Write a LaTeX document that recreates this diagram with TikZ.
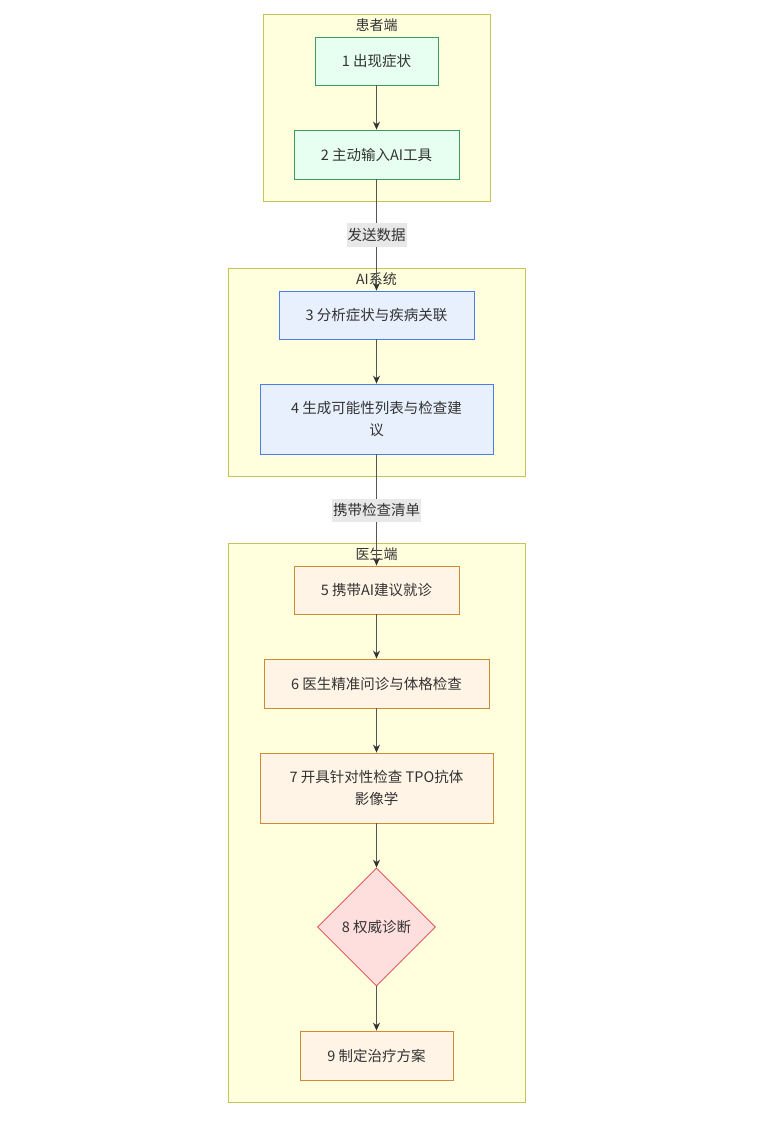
\documentclass[tikz,border=0pt]{standalone}
\usepackage{fontspec}
\setmainfont{Noto Sans CJK SC}
\newfontfamily\cjk{Noto Sans CJK SC}
\usetikzlibrary{shapes.geometric,arrows.meta}
\definecolor{clfill}{HTML}{FFFFDE}
\definecolor{clline}{HTML}{C4C45A}
\definecolor{gfill}{HTML}{E6FFF0}
\definecolor{gline}{HTML}{3E9A60}
\definecolor{bfill}{HTML}{E8F0FE}
\definecolor{bline}{HTML}{4A7EE8}
\definecolor{ofill}{HTML}{FFF4E6}
\definecolor{oline}{HTML}{D08A30}
\definecolor{rfill}{HTML}{FFDEDE}
\definecolor{rline}{HTML}{E0404A}
\definecolor{txt}{HTML}{333333}
\definecolor{edge}{HTML}{555555}
\definecolor{tipc}{HTML}{333333}
\definecolor{lblbg}{HTML}{E8E8E8}
\tikzset{
  cluster/.style={draw=clline, fill=clfill, line width=0.8pt},
  ctitle/.style={text=txt, font=\cjk\fontsize{14}{16}\selectfont, inner sep=0pt},
  box/.style={rectangle, line width=0.8pt, inner sep=0pt, align=center, text=txt, font=\cjk\fontsize{14.5}{22}\selectfont},
  gbox/.style={box, draw=gline, fill=gfill},
  bbox/.style={box, draw=bline, fill=bfill},
  obox/.style={box, draw=oline, fill=ofill},
  rdia/.style={diamond, aspect=1, line width=0.8pt, draw=rline, fill=rfill, inner sep=0pt, minimum width=118pt, minimum height=118pt, text=txt, font=\cjk\fontsize{14.5}{16}\selectfont},
  conn/.style={draw=edge, line width=1pt, -{Stealth[length=8pt,width=7pt,color=tipc]}},
  elabel/.style={fill=lblbg, text=txt, font=\cjk\fontsize{14.5}{16}\selectfont, inner xsep=1pt, minimum height=23pt}
}
\begin{document}
\begin{tikzpicture}[x=1pt,y=-1pt]
\useasboundingbox[fill=white] (0,0) rectangle (760,1123);
% clusters
\draw[cluster] (263,14) rectangle (490,201);
\node[ctitle] (t1) at (376.5,25) {患者端};
\draw[cluster] (228,268) rectangle (525,476);
\node[ctitle] (t2) at (376.5,279) {AI系统};
\draw[cluster] (228,543) rectangle (525,1102);
\node[ctitle] (t3) at (376.5,554) {医生端};
% nodes
\node[gbox, minimum width=123pt, minimum height=48pt] (n1) at (376.5,61) {1 出现症状};
\node[gbox, minimum width=165pt, minimum height=49pt] (n2) at (376.5,154.5) {2 主动输入AI工具};
\node[bbox, minimum width=195pt, minimum height=48pt] (n3) at (376.5,315) {3 分析症状与疾病关联};
\node[bbox, minimum width=233pt, minimum height=70pt] (n4) at (376.5,419) {4 生成可能性列表与检查建\\议};
\node[obox, minimum width=165pt, minimum height=48pt] (n5) at (376.5,590) {5 携带AI建议就诊};
\node[obox, minimum width=225pt, minimum height=49pt] (n6) at (376.5,683.5) {6 医生精准问诊与体格检查};
\node[obox, minimum width=233pt, minimum height=70pt] (n7) at (376.5,788) {7 开具针对性检查 TPO抗体\\影像学};
\node[rdia] (n8) at (376.5,927) {8 权威诊断};
\node[obox, minimum width=153pt, minimum height=49pt] (n9) at (376.5,1055.5) {9 制定治疗方案};
% edges
\draw[conn] (n1) -- (n2);
\draw[conn] (n2) -- node[elabel] (l1) {发送数据} (n3);
\draw[conn] (n3) -- (n4);
\draw[conn] (n4) -- node[elabel] (l2) {携带检查清单} (n5);
\draw[conn] (n5) -- (n6);
\draw[conn] (n6) -- (n7);
\draw[conn] (n7) -- (n8);
\draw[conn] (n8) -- (n9);
\end{tikzpicture}
\end{document}
